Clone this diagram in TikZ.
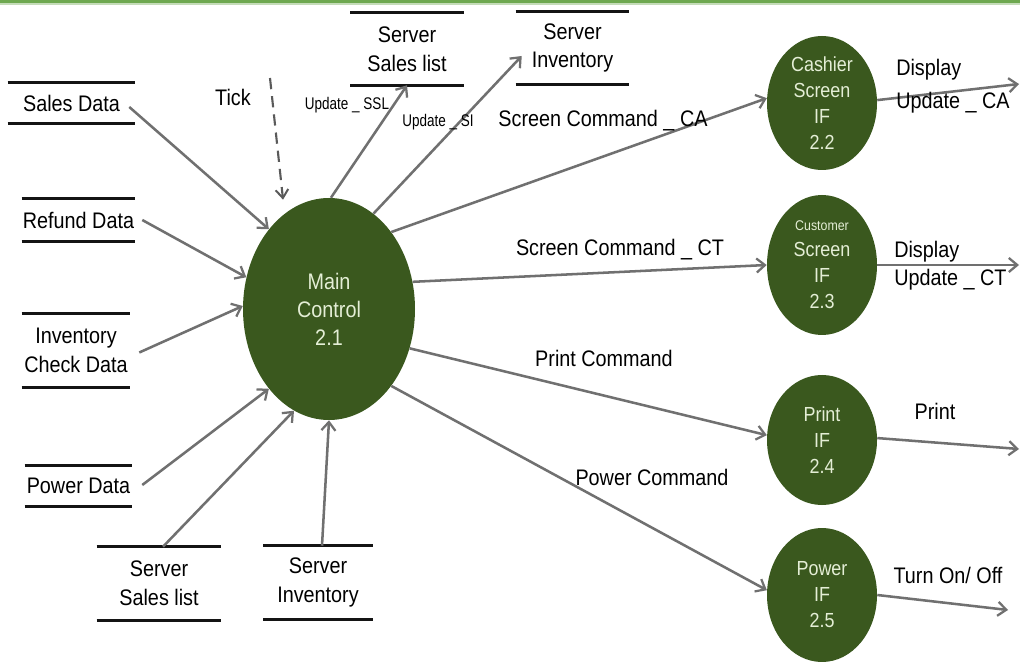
\documentclass[tikz,border=0pt]{standalone}
\usepackage{fontspec}
\setmainfont{Liberation Sans}[FakeStretch=0.88]
\newfontfamily\narrowfont{Liberation Sans}[FakeStretch=0.8]
\usetikzlibrary{arrows.meta,shapes.geometric,calc}
\definecolor{procgreen}{RGB}{58,88,30}
\definecolor{proctext}{RGB}{228,238,214}
\definecolor{flowgray}{RGB}{112,112,112}
\definecolor{tickgray}{RGB}{90,90,90}
\definecolor{storeblack}{RGB}{20,20,20}
\definecolor{bandgreen}{RGB}{110,168,80}
\def\pxu{0.025cm}
\begin{document}
\begin{tikzpicture}[x=0.025cm,y=-0.025cm,
  proc/.style={ellipse, fill=procgreen, text=proctext, inner sep=0pt, align=center,
               font=\fontsize{14.5}{18.5}\selectfont},
  store/.style={rectangle, inner sep=0pt, align=center, font=\fontsize{16}{20.5}\selectfont},
  flow/.style={draw=flowgray, line width=1.8pt,
               -{Straight Barb[length=6pt,width=10pt,line width=1.6pt]}},
  tickflow/.style={draw=tickgray, line width=1.5pt, dash pattern=on 8pt off 5pt,
               -{Straight Barb[length=6pt,width=9pt,line width=1.4pt]}},
  lbl/.style={font=\fontsize{16}{20}\selectfont, inner sep=0pt},
  smalllbl/.style={font=\narrowfont\fontsize{12}{14}\selectfont, inner sep=0pt},
  storeline/.style={draw=storeblack, line width=2.4pt}]

\useasboundingbox (0,0) rectangle (1020,662);
\fill[white] (0,0) rectangle (1020,662);
\fill[bandgreen] (0,0) rectangle (1020,3);
\fill[bandgreen!40] (0,3) rectangle (1020,5);

% processes
\node[proc, minimum width=172*\pxu, minimum height=222*\pxu,
      font=\fontsize{16}{20}\selectfont] (main) at (329,309) {Main\\Control\\2.1};
\node[proc, minimum width=110*\pxu, minimum height=134*\pxu] (cash) at (822,103)
      {Cashier\\Screen\\IF\\2.2};
\node[proc, minimum width=110*\pxu, minimum height=140*\pxu] (cust) at (822,265)
      {{\fontsize{10}{12}\selectfont Customer}\\Screen\\IF\\2.3};
\node[proc, minimum width=110*\pxu, minimum height=130*\pxu] (print) at (822,440)
      {Print\\IF\\2.4};
\node[proc, minimum width=110*\pxu, minimum height=134*\pxu] (power) at (822,595)
      {Power\\IF\\2.5};

% data stores
\node[store, minimum width=127*\pxu, minimum height=40*\pxu] (sales) at (71.5,103) {Sales Data};
\node[store, minimum width=113*\pxu, minimum height=42*\pxu] (refund) at (78.5,220) {Refund Data};
\node[store, minimum width=108*\pxu, minimum height=73*\pxu] (inv) at (76,350.5) {Inventory\\Check Data};
\node[store, minimum width=107*\pxu, minimum height=40*\pxu] (pwr) at (78.5,486) {Power Data};
\node[store, minimum width=124*\pxu, minimum height=73*\pxu] (sslb) at (159,583.5) {Server\\Sales list};
\node[store, minimum width=109*\pxu, minimum height=73*\pxu] (sib) at (318,582.5) {Server\\Inventory};
\node[store, minimum width=113*\pxu, minimum height=72*\pxu] (sslt) at (407,49) {Server\\Sales list};
\node[store, minimum width=113*\pxu, minimum height=72*\pxu] (sit) at (572.5,48) {Server\\Inventory};
\foreach \n in {sales,refund,inv,pwr,sslb,sib,sslt,sit}{
  \draw[storeline] (\n.north west) -- (\n.north east) (\n.south west) -- (\n.south east);
}

% free ends
\coordinate (tickstart) at (270,78);
\coordinate (caout) at (1019,84);
\coordinate (ctout) at (1019,265);
\coordinate (prout) at (1019,449);
\coordinate (pwout) at (1008,610);

% inputs to main
\draw[flow] ($(sales.east)+(-6,4)$) -- (main.127);
\draw[flow] ($(refund.east)+(7,0)$) -- (main.159);
\draw[flow] ($(inv.east)+(9,2)$) -- (main.178);
\draw[flow] ($(pwr.east)+(10,-1)$) -- (main.233);
\draw[flow] ($(sslb.north)+(4,0)$) -- (main.251);
\draw[flow] ($(sib.north)+(4,0)$) -- (main.270);
\draw[tickflow, shorten >=10pt] (tickstart) -- (main.115);

% outputs of main
\draw[flow] (main.89) -- (sslt.south);
\draw[flow] (main.65) -- ($(sit.west)+(6,8)$);
\draw[flow] (main.51) -- (cash.175);
\draw[flow] (main.18) -- (cust.180);
\draw[flow] (main.-26) -- (print.175);
\draw[flow] (main.-51) -- (power.175);

% outputs of interfaces
\draw[flow] (cash.3) -- (caout);
\draw[flow] (cust.0) -- (ctout);
\draw[flow] (print.2) -- (prout);
\draw[flow] (power.0) -- (pwout);

% labels
\node[lbl] (ltick) at (233,97) {Tick};
\node[smalllbl] (lssl) at (347,105) {Update \_ SSL};
\node[smalllbl] (lsi) at (438,122) {Update \_ SI};
\node[lbl] (lca) at (603,121) {Screen Command \_ CA};
\node[lbl] (lct) at (620,250) {Screen Command \_ CT};
\node[lbl] (lpc) at (604,358) {Print Command};
\node[lbl] (lpw) at (652,477) {Power Command};
\node[lbl, anchor=west] (ldca) at (896,70) {Display};
\node[lbl, anchor=west] (luca) at (896,103) {Update \_ CA};
\node[lbl, anchor=west] (ldct) at (894,252) {Display};
\node[lbl, anchor=west] (luct) at (894,280) {Update \_ CT};
\node[lbl] (lprint) at (935,411) {Print};
\node[lbl] (lturn) at (948,575) {Turn On/ Off};
\end{tikzpicture}
\end{document}
